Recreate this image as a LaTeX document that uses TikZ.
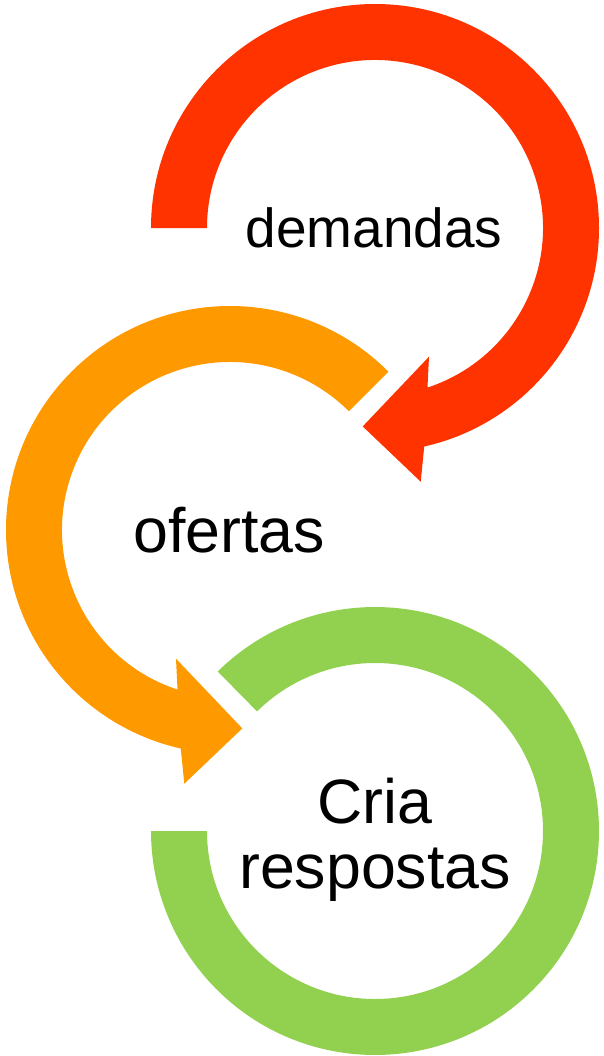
\documentclass[tikz,border=0pt]{standalone}
\usepackage{fontspec}
\setmainfont{Liberation Sans}
\definecolor{demRed}{RGB}{255,51,0}
\definecolor{ofeOrange}{RGB}{255,153,0}
\definecolor{criGreen}{RGB}{146,208,80}
\tikzset{
  ringtext/.style={inner sep=0pt, align=center, text=black},
}
\begin{document}
\begin{tikzpicture}[x=0.75pt,y=0.75pt,yscale=-1,xscale=1]
\useasboundingbox (0,0) rectangle (603,1056);

%Shape: Circular Arrow [id:demandas]
\fill [demRed, shift={(375,228)}] (180:224) arc [start angle=180, end angle=437.3, radius=224] -- (45.7,253.7) -- (-12.3,198.4) -- (54,128.7) -- (71.8:168) arc [start angle=431.8, end angle=180, radius=168] -- cycle ;

%Shape: Circular Arrow [id:ofertas]
\begin{scope}[shift={(230,530)}, xscale=-1]
\fill [ofeOrange] (225:224) arc [start angle=225, end angle=437.3, radius=224] -- (45.7,253.7) -- (-12.3,198.4) -- (54,128.7) -- (71.8:168) arc [start angle=431.8, end angle=225, radius=168] -- cycle ;
\end{scope}

%Shape: Arc [id:respostas]
\fill [criGreen, shift={(375,831)}] (225.4:224) arc [start angle=225.4, end angle=540, radius=224] -- (540:168) arc [start angle=540, end angle=225.4, radius=168] -- cycle ;

% Text Node
\node [ringtext, font=\fontsize{41.25}{45}\selectfont, anchor=base] (dem) at (374,247) {demandas};
% Text Node
\node [ringtext, font=\fontsize{47}{48.75}\selectfont, anchor=base] (ofe) at (229,552) {ofertas};
% Text Node
\node [ringtext, font=\fontsize{47}{48.75}\selectfont] (cria) at (375,840) {Cria\\respostas};

\end{tikzpicture}
\end{document}
